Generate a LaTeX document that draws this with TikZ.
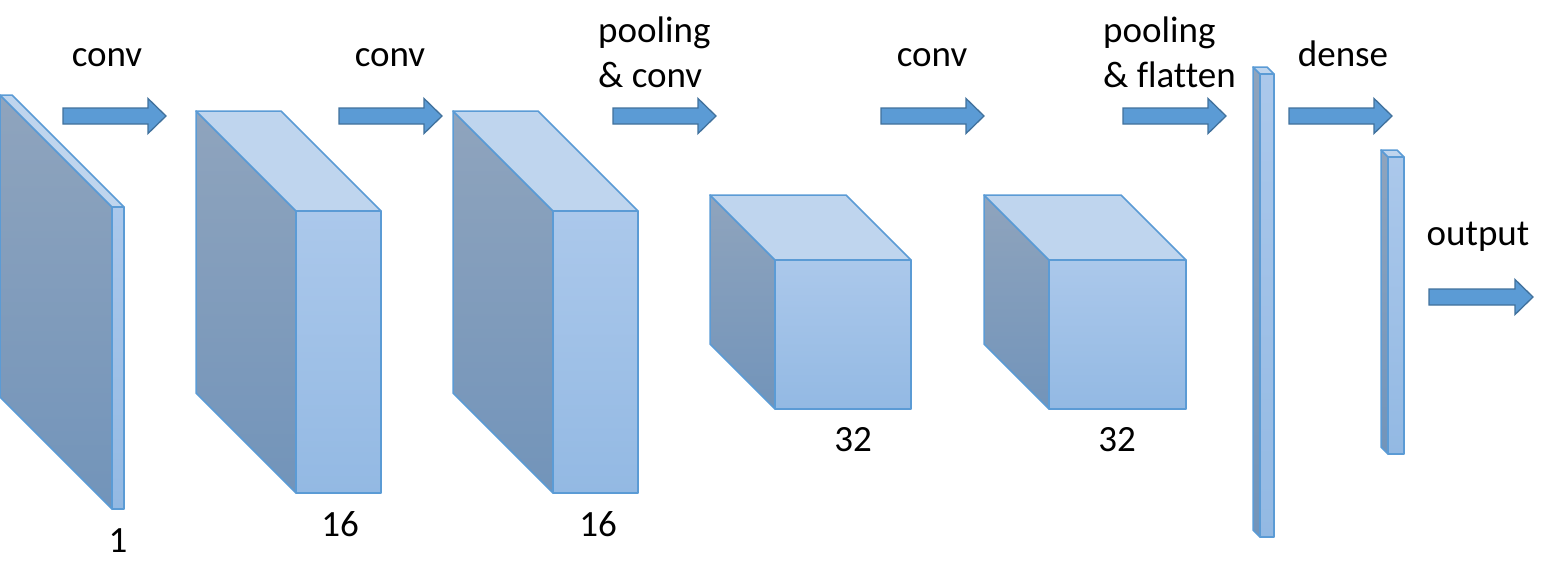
\documentclass[tikz,border=0pt]{standalone}
\usepackage{fontspec}
\setmainfont[Ligatures=NoCommon]{Carlito}
\definecolor{edge}{HTML}{5B9BD5}
\definecolor{arrfill}{HTML}{5B9BD5}
\definecolor{arrline}{HTML}{41719C}
\definecolor{fronttop}{HTML}{ABC8EB}
\definecolor{frontbot}{HTML}{93B9E3}
\definecolor{topface}{HTML}{BFD5EE}
\definecolor{sidetop}{HTML}{8FA4BD}
\definecolor{sidebot}{HTML}{7294BA}
\newcommand\mycube[5]{%
  \draw[sideface] (#1,#2) -- ({#1-#5},{#2-#5}) -- ({#1-#5},{#2+#4-#5}) -- (#1,{#2+#4}) -- cycle;
  \draw[topf] (#1,#2) -- ({#1-#5},{#2-#5}) -- ({#1+#3-#5},{#2-#5}) -- ({#1+#3},#2) -- cycle;
  \draw[frontf] (#1,#2) rectangle ({#1+#3},{#2+#4});
}
\newcommand\blockarrow[3]{%
  \draw[blockarr] (#1,{#3-8}) -- ({#2-18},{#3-8}) -- ({#2-18},{#3-17.5}) -- (#2,#3)
    -- ({#2-18},{#3+17.5}) -- ({#2-18},{#3+8}) -- (#1,{#3+8}) -- cycle;
}
\tikzset{
  sideface/.style={draw=edge, line width=1.5pt, line join=round, top color=sidetop, bottom color=sidebot},
  topf/.style={draw=edge, line width=1.5pt, line join=round, fill=topface},
  frontf/.style={draw=edge, line width=1.5pt, line join=round, top color=fronttop, bottom color=frontbot},
  blockarr/.style={draw=arrline, line width=1.3pt, fill=arrfill, line join=miter},
  lbl/.style={font=\fontsize{37}{45}\selectfont, inner sep=0pt, anchor=base},
  lbl2/.style={font=\fontsize{37}{45}\selectfont, inner sep=0pt, anchor=base west, align=left},
}
\begin{document}
\begin{tikzpicture}[x=1pt,y=-1pt]
\useasboundingbox (0,0) rectangle (1552,570);
% layers
\mycube{112}{207}{12}{302}{112}
\mycube{296}{211}{85}{282}{100}
\mycube{553}{211}{85}{282}{100}
\mycube{775}{260}{136}{149}{65}
\mycube{1049}{260}{137}{149}{65}
\mycube{1260}{74}{14}{463}{7}
\mycube{1388}{157}{16}{297}{7}
% arrows
\blockarrow{63}{166}{116}
\blockarrow{339}{442}{116}
\blockarrow{613}{716}{116}
\blockarrow{881}{984}{116}
\blockarrow{1123}{1226}{116}
\blockarrow{1289}{1392}{116}
\blockarrow{1429}{1533}{297}
% labels
\node[lbl] (t1) at (107,66) {conv};
\node[lbl] (t2) at (390,66) {conv};
\node[lbl2] (t3a) at (598,42) {pooling};
\node[lbl2] (t3b) at (598,87) {\& conv};
\node[lbl] (t4) at (932,66) {conv};
\node[lbl2] (t5a) at (1103,42) {pooling};
\node[lbl2] (t5b) at (1103,87) {\& flatten};
\node[lbl] (t6) at (1343,66) {dense};
\node[lbl] (t7) at (1478,245) {output};
\node[lbl] (n1) at (118,552) {1};
\node[lbl] (n2) at (340,536) {16};
\node[lbl] (n3) at (598,536) {16};
\node[lbl] (n4) at (853,451) {32};
\node[lbl] (n5) at (1117,451) {32};
\end{tikzpicture}
\end{document}
